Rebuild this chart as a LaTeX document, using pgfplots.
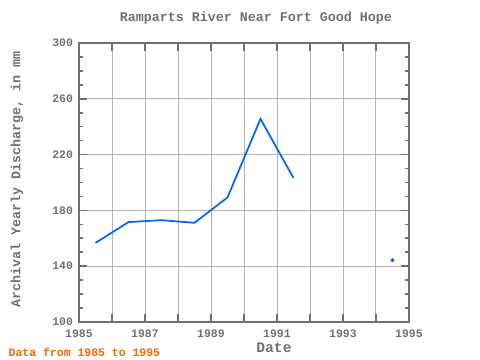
\documentclass[border=0pt]{standalone}
\usepackage{fontspec}
\setmainfont{Liberation Mono}
\usepackage{pgfplots}
\pgfplotsset{compat=1.18}
\definecolor{axgray}{HTML}{707070}
\definecolor{gridgray}{HTML}{B4B4B4}
\definecolor{lineblue}{HTML}{0066FF}
\definecolor{orng}{HTML}{FF6600}
\begin{document}
\begin{tikzpicture}[x=0.75pt,y=0.75pt]
\useasboundingbox (0,0) rectangle (480,360);
\begin{axis}[
  at={(79*0.75pt,38*0.75pt)}, anchor=south west,
  scale only axis, width=330*0.75pt, height=279*0.75pt,
  xmin=1985, xmax=1995, ymin=100, ymax=300,
  xtick={1985,...,1995},
  xticklabels={1985,,1987,,1989,,1991,,1993,,1995},
  ytick={100,140,...,300},
  minor x tick num=2, minor y tick num=3,
  grid=major,
  every major grid/.style={draw=gridgray, line width=0.7pt},
  axis line style={axgray, line width=1.5pt},
  major tick style={draw=axgray, line width=1.2pt},
  minor tick style={draw=axgray, line width=1.2pt},
  major tick length=6pt, minor tick length=3pt,
  tick align=inside,
  xtick pos=both, ytick pos=both,
  ticklabel style={font=\bfseries\fontsize{8.6}{10}\selectfont, text=axgray},
  /pgf/number format/assume math mode=true,
  /pgf/number format/1000 sep={},
  xticklabel style={yshift=-2pt},
  yticklabel style={xshift=-1pt},
]
\addplot[lineblue, line width=1.3pt] coordinates {
(1985.5,156.7) (1986.5,171.6) (1987.5,173.0) (1988.5,171.1) (1989.5,189.3) (1990.5,245.6) (1991.5,203.2)
};
\addplot[lineblue, only marks, mark=*, mark size=1.3pt] coordinates {(1994.5,144.3)};
\end{axis}
\node[text=axgray, font=\bfseries\fontsize{10}{12}\selectfont] at (256,342) {Ramparts River Near Fort Good Hope};
\node[text=axgray, font=\bfseries\fontsize{10}{12}\selectfont, rotate=90] at (17,181) {Archival Yearly Discharge, in mm};
\node[text=axgray, font=\bfseries\fontsize{11}{12}\selectfont] at (274,12) {Date};
\node[text=orng, font=\bfseries\fontsize{8.6}{10}\selectfont, anchor=west] at (4,8) {Data from 1985 to 1995};
\end{tikzpicture}
\end{document}
